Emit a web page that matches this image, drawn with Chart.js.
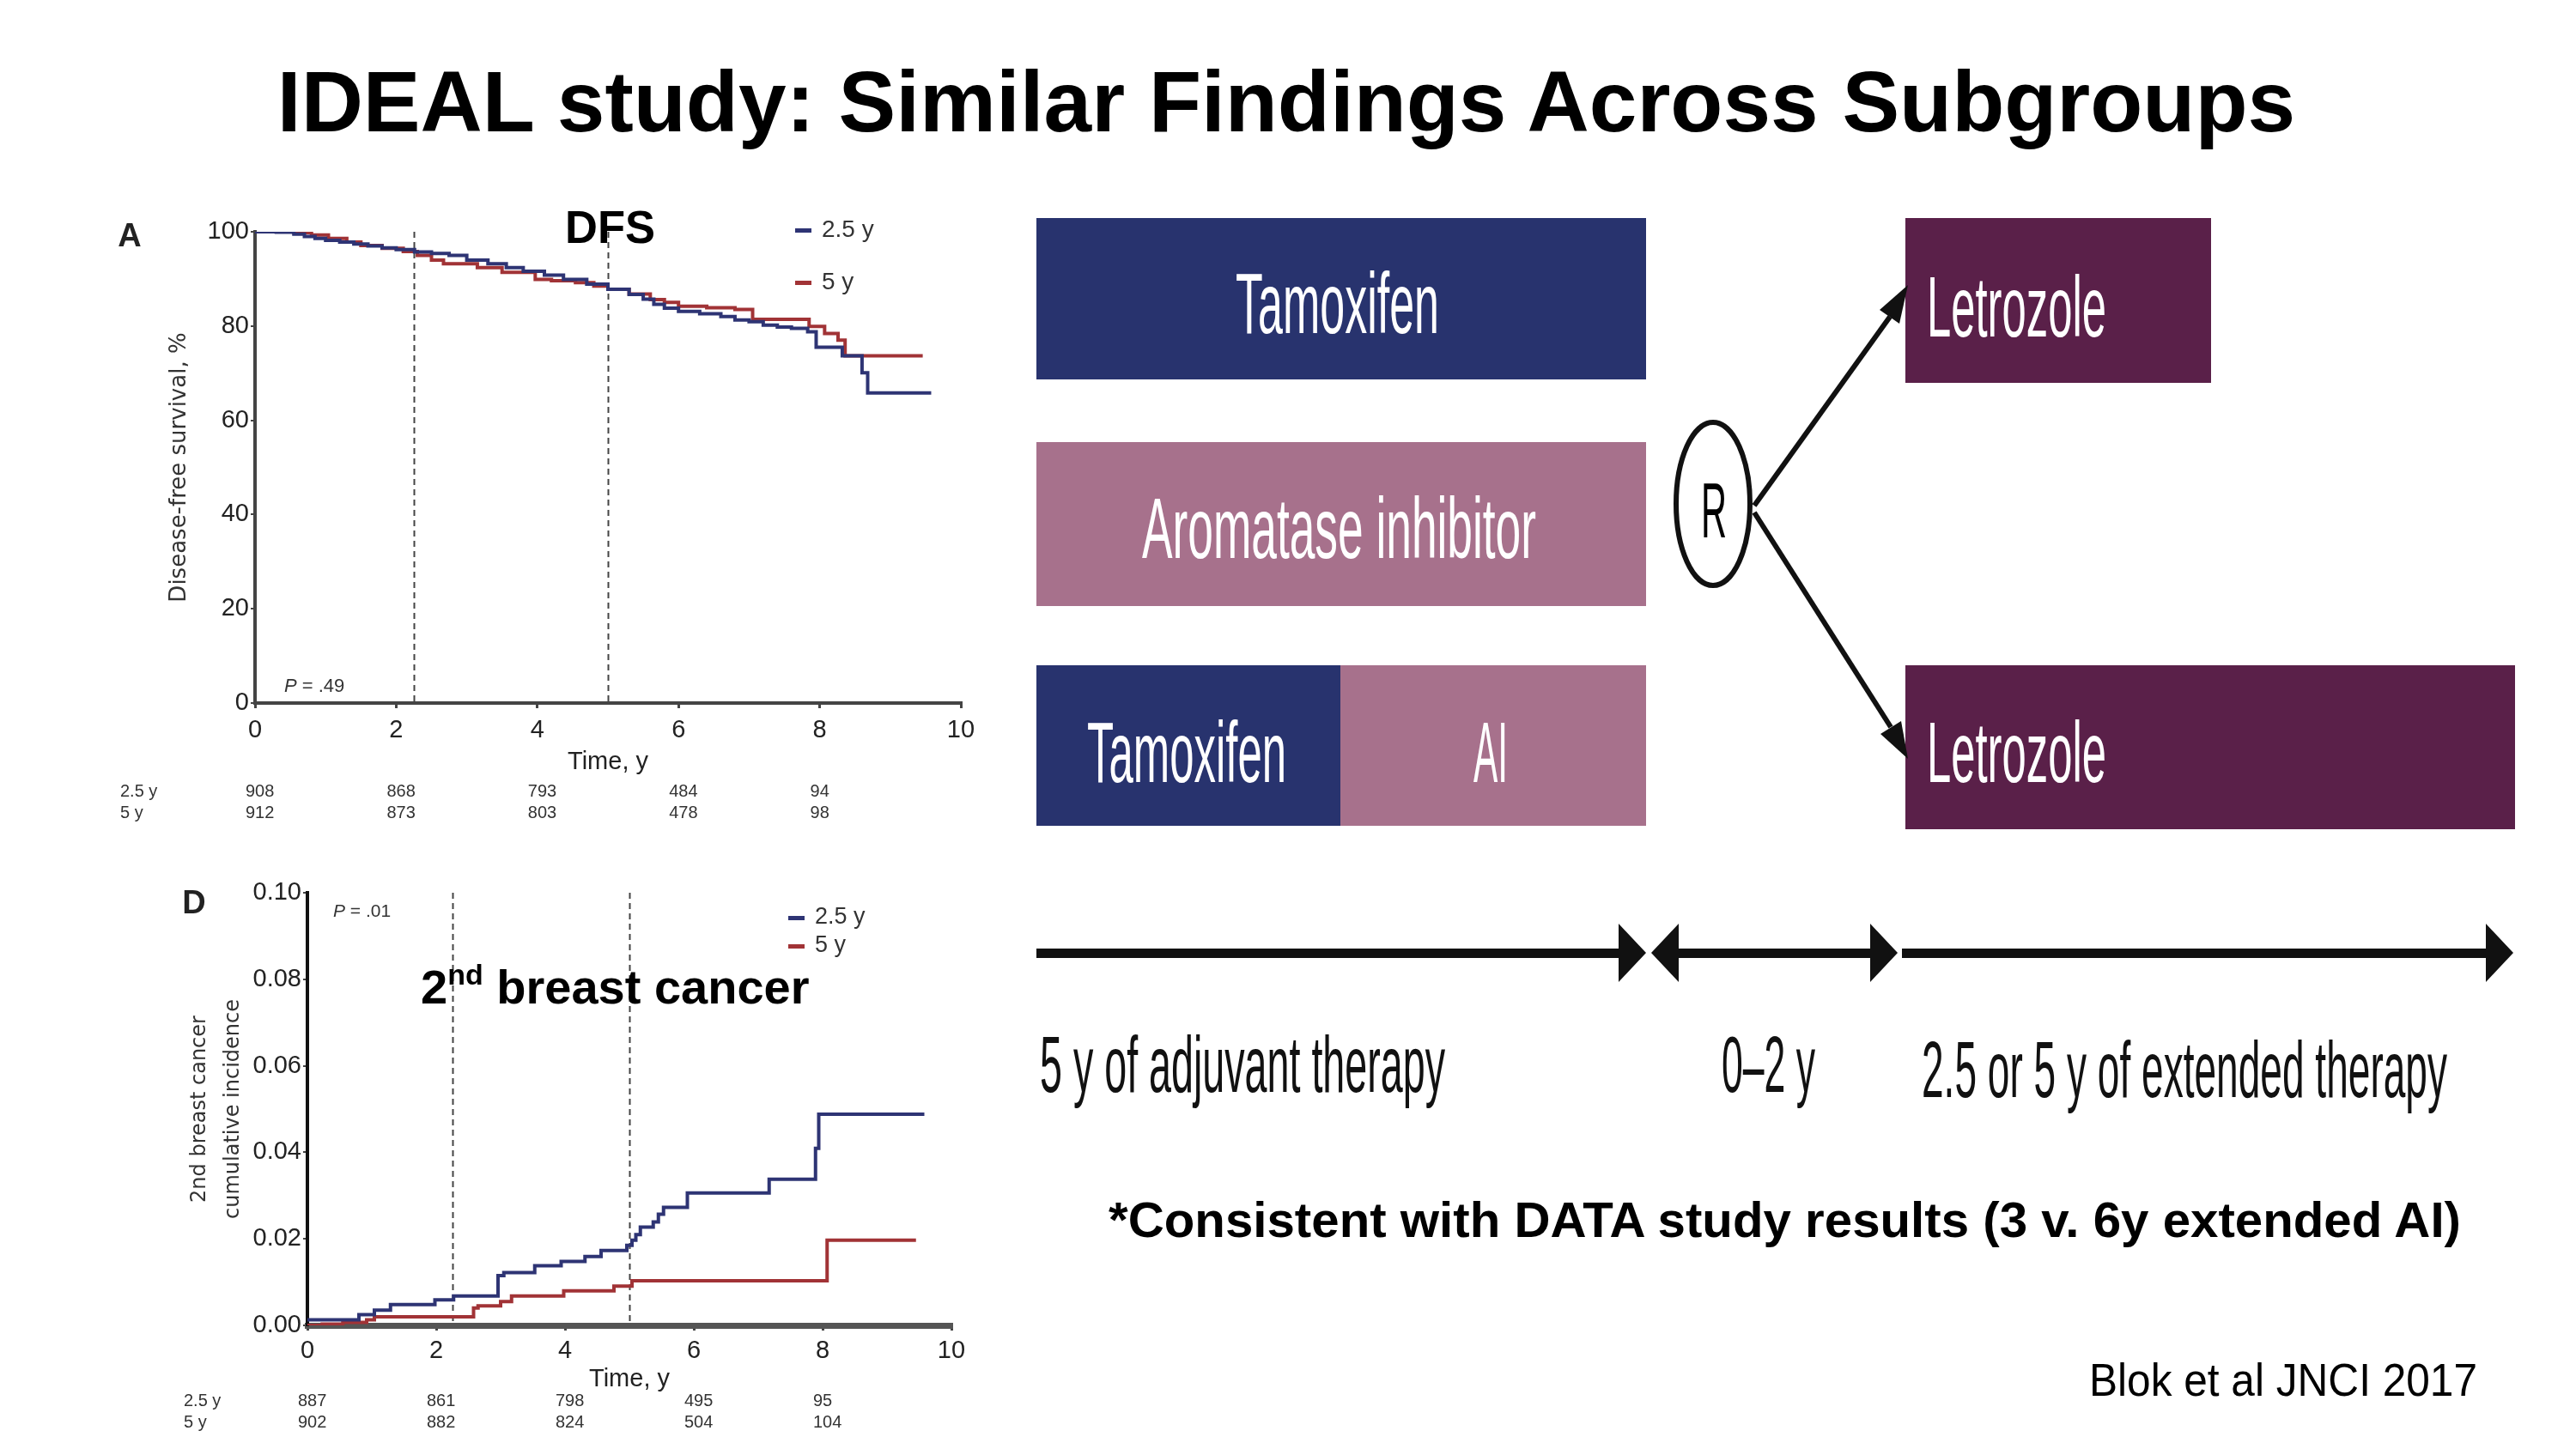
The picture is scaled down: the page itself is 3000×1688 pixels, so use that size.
<!DOCTYPE html>
<html>
<head>
<meta charset="utf-8">
<title>IDEAL study</title>
<script src="https://cdn.jsdelivr.net/npm/chart.js@4.4.1/dist/chart.umd.min.js"></script>
<style>
  html, body { margin: 0; padding: 0; background: #fff; }
  #page { position: relative; width: 3000px; height: 1688px; overflow: hidden; background: #fff; }
  #dfsWrap { position: absolute; left: 100px; top: 200px; }
  #bcWrap { position: absolute; left: 180px; top: 1010px; }
  #overlay { position: absolute; left: 0; top: 0; pointer-events: none; }
</style>
</head>
<body>
<div id="page">
  <div id="dfsWrap"><canvas id="dfsChart" width="1080" height="790"></canvas></div>
  <div id="bcWrap"><canvas id="bcChart" width="1000" height="678"></canvas></div>

  <svg id="overlay" width="3000" height="1688" font-family="'Liberation Sans', Arial, sans-serif">
    <text x="1498" y="153" text-anchor="middle" font-size="100" font-weight="bold">IDEAL study: Similar Findings Across Subgroups</text>

    <!-- panel captions -->
    <text x="151" y="287" text-anchor="middle" font-size="38" font-weight="bold" fill="#222">A</text>
    <text x="226" y="1064" text-anchor="middle" font-size="38" font-weight="bold" fill="#222">D</text>
    <text x="658" y="283" font-size="54" font-weight="bold" textLength="105" lengthAdjust="spacingAndGlyphs">DFS</text>
    <text x="490" y="1169" font-size="56" font-weight="bold">2<tspan font-size="34" dy="-22">nd</tspan><tspan dy="22"> breast cancer</tspan></text>
    <text x="331" y="806" font-size="22" fill="#333"><tspan font-style="italic">P</tspan> = .49</text>
    <text x="388" y="1068" font-size="21" fill="#333"><tspan font-style="italic">P</tspan> = .01</text>

    <!-- treatment boxes -->
    <rect x="1207" y="254" width="710" height="188" fill="#28336e"/>
    <rect x="1207" y="515" width="710" height="191" fill="#a7718c"/>
    <rect x="1207" y="775" width="354" height="187" fill="#28336e"/>
    <rect x="1561" y="775" width="356" height="187" fill="#a7718c"/>
    <rect x="2219" y="254" width="356" height="192" fill="#5a2049"/>
    <rect x="2219" y="775" width="710" height="191" fill="#5a2049"/>
    <g fill="#fff" font-size="100">
      <text x="1439" y="388" textLength="237" lengthAdjust="spacingAndGlyphs">Tamoxifen</text>
      <text x="1330" y="650" textLength="459" lengthAdjust="spacingAndGlyphs">Aromatase inhibitor</text>
      <text x="1266" y="911" textLength="232" lengthAdjust="spacingAndGlyphs">Tamoxifen</text>
      <text x="1716" y="911" textLength="40" lengthAdjust="spacingAndGlyphs">AI</text>
      <text x="2244" y="392" textLength="209" lengthAdjust="spacingAndGlyphs">Letrozole</text>
      <text x="2244" y="911" textLength="209" lengthAdjust="spacingAndGlyphs">Letrozole</text>
    </g>

    <!-- randomisation -->
    <line x1="2043" y1="589" x2="2201" y2="369" stroke="#111" stroke-width="6"/>
    <polygon points="2222,332 2212,377 2189,361" fill="#111"/>
    <line x1="2043" y1="597" x2="2202" y2="847" stroke="#111" stroke-width="6"/>
    <polygon points="2222,884 2190,855 2214,840" fill="#111"/>
    <ellipse cx="1995" cy="587" rx="43" ry="95" fill="#fff" stroke="#111" stroke-width="6"/>
    <text x="1981" y="626" font-size="90" textLength="30" lengthAdjust="spacingAndGlyphs">R</text>

    <!-- timeline -->
    <g fill="#111" stroke="none">
      <rect x="1207" y="1105" width="685" height="11"/>
      <polygon points="1885,1076 1917,1110 1885,1144"/>
      <polygon points="1923,1110 1955,1076 1955,1144"/>
      <rect x="1950" y="1105" width="232" height="11"/>
      <polygon points="2178,1076 2210,1110 2178,1144"/>
      <rect x="2215" y="1105" width="685" height="11"/>
      <polygon points="2895,1076 2927,1110 2895,1144"/>
    </g>
    <g fill="#111" font-size="93">
      <text x="1211" y="1272" textLength="472" lengthAdjust="spacingAndGlyphs">5 y of adjuvant therapy</text>
      <text x="2005" y="1272" textLength="109" lengthAdjust="spacingAndGlyphs">0–2 y</text>
      <text x="2238" y="1278" textLength="612" lengthAdjust="spacingAndGlyphs">2.5 or 5 y of extended therapy</text>
    </g>

    <text x="1291" y="1441" font-size="58" font-weight="bold" textLength="1575" lengthAdjust="spacingAndGlyphs">*Consistent with DATA study results (3 v. 6y extended AI)</text>
    <text x="2433" y="1626" font-size="54" textLength="452" lengthAdjust="spacingAndGlyphs">Blok et al JNCI 2017</text>
  </svg>
</div>

<script>
// ---- shared ----
const seriesLabels = ['2.5 y', '5 y'];
const seriesColors = ['#2e3474', '#a13336'];
const riskTimes = [0, 2, 4, 6, 8];
const cutoffTimes = [2.25, 5];

// ---- panel A: disease-free survival, % ----
const dfsTime25 = [0, 0.3, 0.55, 0.7, 0.85, 1.0, 1.2, 1.4, 1.6, 1.8, 2.0, 2.26, 2.5, 2.75, 3.0, 3.3, 3.56, 3.8, 4.1, 4.37, 4.7, 5.0, 5.3, 5.5, 5.65, 5.8, 6.0, 6.3, 6.6, 6.8, 7.0, 7.2, 7.4, 7.6, 7.83, 7.95, 8.32, 8.6, 8.68, 9.58];
const dfsSurv25 = [100, 99.9, 99.5, 99.0, 98.6, 98.2, 97.8, 97.4, 97.0, 96.6, 96.2, 95.7, 95.4, 95.0, 94.0, 93.2, 92.4, 91.6, 90.8, 89.9, 88.9, 87.8, 86.7, 85.7, 84.6, 83.8, 83.1, 82.6, 82.0, 81.3, 80.9, 80.2, 79.8, 79.5, 78.8, 75.5, 73.7, 70.1, 65.8, 65.8];
const dfsTime5 = [0, 0.55, 0.8, 1.04, 1.3, 1.5, 1.8, 2.1, 2.3, 2.5, 2.67, 3.15, 3.5, 3.97, 4.2, 4.54, 4.8, 5.0, 5.3, 5.6, 5.8, 6.0, 6.4, 6.8, 7.05, 7.85, 8.07, 8.26, 8.36, 9.46];
const dfsSurv5 = [100, 99.8, 99.3, 98.6, 97.8, 97.1, 96.5, 95.8, 95.0, 94.0, 93.2, 92.4, 91.4, 89.9, 89.6, 89.2, 88.5, 87.8, 86.8, 85.6, 85.0, 84.2, 83.9, 83.5, 81.4, 79.9, 78.4, 77.0, 73.7, 73.7];
const dfsRisk25 = [908, 868, 793, 484, 94];
const dfsRisk5 = [912, 873, 803, 478, 98];

// ---- panel D: 2nd breast cancer cumulative incidence ----
const bcTime25 = [0, 0.8, 1.04, 1.29, 1.98, 2.27, 2.96, 3.05, 3.53, 3.94, 4.31, 4.56, 4.96, 5.04, 5.1, 5.17, 5.37, 5.45, 5.53, 5.9, 7.17, 7.89, 7.94, 9.58];
const bcInc25 = [0.0013, 0.0025, 0.0035, 0.0048, 0.0059, 0.0068, 0.0115, 0.0122, 0.0138, 0.0148, 0.0159, 0.0173, 0.0185, 0.0197, 0.0210, 0.0227, 0.0239, 0.0257, 0.0273, 0.0306, 0.0338, 0.0409, 0.0488, 0.0488];
const bcTime5 = [0, 0.23, 0.55, 0.92, 1.04, 2.58, 2.65, 3.0, 3.17, 3.98, 4.76, 5.04, 8.07, 9.45];
const bcInc5 = [0, 0.0003, 0.0007, 0.0013, 0.0020, 0.0040, 0.0045, 0.0055, 0.0068, 0.0080, 0.0091, 0.0103, 0.0197, 0.0197];
const bcRisk25 = [887, 861, 798, 495, 95];
const bcRisk5 = [902, 882, 824, 504, 104];

const toXY = (ts, vs) => ts.map((t, i) => ({ x: t, y: vs[i] }));
const tickFont = { family: "'Liberation Sans', Arial, sans-serif", size: 29 };

// dashed cut-off lines, legend and number-at-risk rows
const kmDecor = {
    id: 'kmDecor',
    beforeDatasetsDraw(chart, args, o) {
        const { ctx, chartArea: a, scales: { x } } = chart;
        ctx.save();
        ctx.setLineDash([7, 5]);
        ctx.lineWidth = 2;
        ctx.strokeStyle = '#444';
        o.cutoffs.forEach(t => {
            const px = Math.round(x.getPixelForValue(t)) + 0.5;
            ctx.beginPath();
            ctx.moveTo(px, a.top);
            ctx.lineTo(px, a.bottom);
            ctx.stroke();
        });
        ctx.restore();
    },
    afterDraw(chart, args, o) {
        const { ctx, scales: { x } } = chart;
        ctx.save();
        // legend
        ctx.font = o.legend.size + "px 'Liberation Sans', Arial, sans-serif";
        ctx.textBaseline = 'middle';
        ctx.textAlign = 'left';
        chart.data.datasets.forEach((ds, i) => {
            const y = o.legend.y + i * o.legend.gap;
            ctx.fillStyle = ds.borderColor;
            ctx.fillRect(o.legend.x, y - 2, 19, 5);
            ctx.fillStyle = '#333';
            ctx.fillText(ds.label, o.legend.x + 31, y);
        });
        // number at risk
        ctx.font = "20px 'Liberation Sans', Arial, sans-serif";
        ctx.fillStyle = '#333';
        o.risk.forEach((row, r) => {
            const y = o.riskY + r * 25;
            ctx.fillText(row.label, o.riskLabelX, y);
            row.values.forEach((v, i) => {
                ctx.fillText(String(v), x.getPixelForValue(riskTimes[i]) - 11, y);
            });
        });
        ctx.restore();
    }
};

function kmChart(id, cfg) {
    const ctx = document.getElementById(id).getContext('2d');
    return new Chart(ctx, {
        type: 'line',
        data: {
            datasets: cfg.series.map((pts, i) => ({
                label: seriesLabels[i],
                data: pts,
                borderColor: seriesColors[i],
                backgroundColor: seriesColors[i],
                borderWidth: 4,
                pointRadius: 0,
                stepped: 'before',   // value holds until the next event time
                fill: false
            }))
        },
        options: {
            responsive: false,
            animation: false,
            layout: { padding: cfg.padding },
            scales: {
                x: {
                    type: 'linear',
                    min: 0, max: 10,
                    afterFit: s => { s.height = cfg.xHeight; },
                    afterBuildTicks: s => { s.ticks = [0, 2, 4, 6, 8, 10].map(v => ({ value: v })); },
                    border: { display: true, color: cfg.xBorder.color, width: cfg.xBorder.width },
                    grid: { display: true, drawOnChartArea: false, drawTicks: true, tickLength: 6, lineWidth: 3, color: '#444' },
                    ticks: { color: '#222', font: tickFont, padding: cfg.xTickPad, maxRotation: 0 },
                    title: {
                        display: true, text: 'Time, y', color: '#222',
                        font: { family: "'Liberation Sans', Arial, sans-serif", size: 29 },
                        padding: { top: 0, bottom: cfg.xTitlePad }
                    }
                },
                y: {
                    min: cfg.yMin, max: cfg.yMax,
                    afterFit: s => { s.width = cfg.yWidth; },
                    afterBuildTicks: s => { s.ticks = cfg.yTicks.map(v => ({ value: v })); },
                    border: { display: true, color: cfg.yBorder.color, width: cfg.yBorder.width },
                    grid: { display: true, drawOnChartArea: false, drawTicks: true, tickLength: 5, lineWidth: 2, color: '#444' },
                    ticks: { color: '#222', font: tickFont, padding: 2, callback: cfg.yFormat },
                    title: {
                        display: true, text: cfg.yTitle, color: '#333',
                        font: { family: "'DejaVu Sans', sans-serif", size: cfg.yTitleSize, lineHeight: cfg.yTitleLH },
                        padding: { top: cfg.yTitlePad, bottom: 0 }
                    }
                }
            },
            plugins: {
                legend: { display: false },
                tooltip: { enabled: false },
                kmDecor: {
                    cutoffs: cutoffTimes,
                    legend: cfg.legend,
                    risk: cfg.risk,
                    riskY: cfg.riskY,
                    riskLabelX: cfg.riskLabelX
                }
            }
        },
        plugins: [kmDecor]
    });
}

window.dfsChartInstance = kmChart('dfsChart', {
    series: [toXY(dfsTime25, dfsSurv25), toXY(dfsTime5, dfsSurv5)],
    padding: { top: 70, right: 61, left: 0, bottom: 0 },
    xHeight: 171, yWidth: 197,
    yMin: 0, yMax: 100, yTicks: [0, 20, 40, 60, 80, 100],
    yFormat: v => v,
    yTitle: 'Disease-free survival, %', yTitleSize: 26, yTitleLH: 1.2, yTitlePad: 94,
    xTickPad: 9, xTitlePad: 85,
    xBorder: { color: '#444', width: 4 }, yBorder: { color: '#444', width: 4 },
    legend: { x: 826, y: 68, gap: 61, size: 28 },
    risk: [{ label: '2.5 y', values: dfsRisk25 }, { label: '5 y', values: dfsRisk5 }],
    riskY: 722, riskLabelX: 40
});

window.bcChartInstance = kmChart('bcChart', {
    series: [toXY(bcTime25, bcInc25), toXY(bcTime5, bcInc5)],
    padding: { top: 30, right: 72, left: 0, bottom: 0 },
    xHeight: 144, yWidth: 178,
    yMin: 0, yMax: 0.1, yTicks: [0, 0.02, 0.04, 0.06, 0.08, 0.1],
    yFormat: v => Number(v).toFixed(2),
    yTitle: ['2nd breast cancer', 'cumulative incidence'], yTitleSize: 24, yTitleLH: 1.6, yTitlePad: 34,
    xTickPad: 7, xTitlePad: 64,
    xBorder: { color: '#555', width: 7 }, yBorder: { color: '#111', width: 4 },
    legend: { x: 738, y: 59, gap: 33, size: 27 },
    risk: [{ label: '2.5 y', values: bcRisk25 }, { label: '5 y', values: bcRisk5 }],
    riskY: 622, riskLabelX: 34
});
</script>
</body>
</html>
